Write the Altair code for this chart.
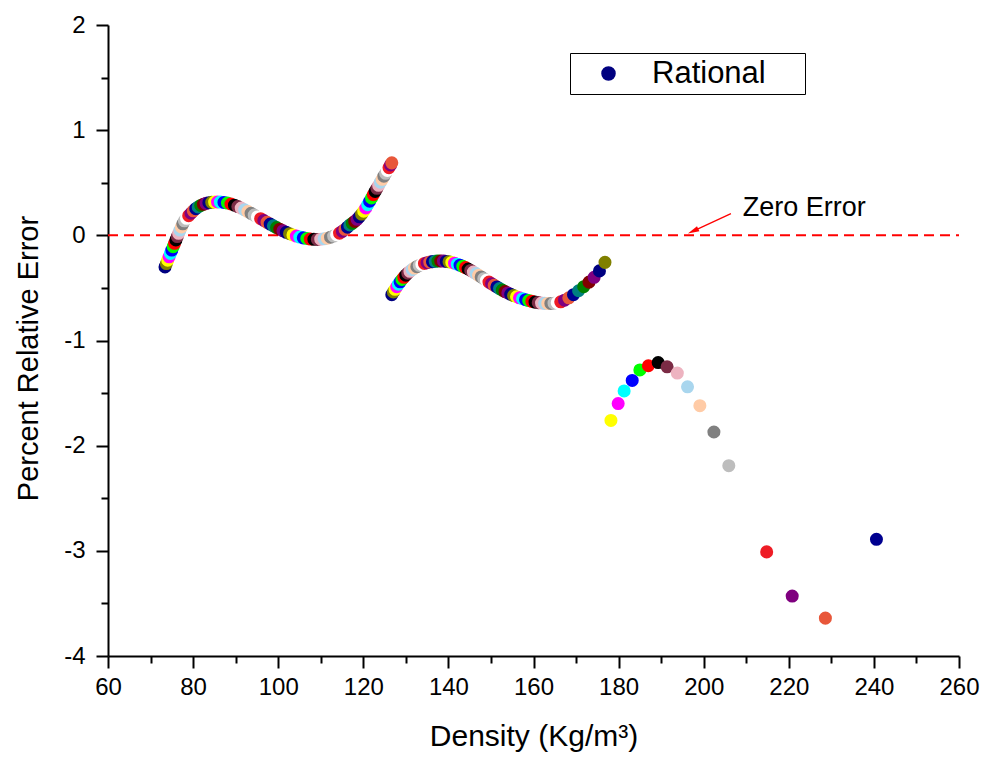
import altair as alt
import pandas as pd

# ---------------- data ----------------
C1_X = [73.40, 73.72, 74.04, 74.36, 74.68, 75.00, 75.32, 75.64, 75.96, 76.28,
        76.60, 76.92, 77.25, 77.58, 77.95, 78.45, 78.97, 79.50, 80.05, 80.62,
        81.20, 81.80, 82.42, 83.05, 83.70, 84.38, 85.06, 85.74, 86.42, 87.25,
        88.08, 88.90, 89.72, 90.52, 91.31, 92.09, 92.86, 93.62, 94.37, 95.12,
        95.87, 96.62, 97.37, 98.12, 98.87, 99.62, 100.37, 101.13, 101.90, 102.68,
        103.47, 104.27, 105.08, 105.90, 106.72, 107.55, 108.38, 109.21, 110.00, 110.78,
        111.55, 112.30, 113.03, 113.74, 114.42, 115.08, 115.70, 116.28, 116.84, 117.40,
        117.98, 118.54, 119.08, 119.60, 120.10, 120.58, 121.04, 121.49, 121.93, 122.36,
        122.78, 123.20, 123.61, 124.02, 124.43, 124.84, 125.25, 125.65, 126.04, 126.40,
        126.70]
C1_Y = [-0.300, -0.268, -0.236, -0.204, -0.172, -0.140, -0.108, -0.076, -0.044, -0.012,
        0.019, 0.050, 0.080, 0.110, 0.138, 0.162, 0.187, 0.210, 0.233, 0.253,
        0.270, 0.284, 0.295, 0.304, 0.310, 0.314, 0.316, 0.317, 0.316, 0.313,
        0.307, 0.298, 0.287, 0.274, 0.259, 0.243, 0.226, 0.209, 0.192, 0.175,
        0.158, 0.141, 0.124, 0.107, 0.090, 0.074, 0.058, 0.043, 0.029, 0.016,
        0.004, -0.007, -0.016, -0.024, -0.030, -0.035, -0.038, -0.039, -0.037, -0.033,
        -0.027, -0.018, -0.007, 0.006, 0.021, 0.038, 0.057, 0.077, 0.099, 0.114,
        0.132, 0.152, 0.176, 0.202, 0.230, 0.260, 0.292, 0.324, 0.356, 0.387,
        0.417, 0.447, 0.476, 0.505, 0.533, 0.562, 0.590, 0.617, 0.644, 0.669,
        0.689]

C2_X = [126.70, 127.08, 127.46, 127.85, 128.25, 128.66, 129.08, 129.52, 129.98, 130.46,
        130.96, 131.48, 132.02, 132.58, 133.16, 133.76, 134.37, 134.99, 135.62, 136.26,
        136.90, 137.55, 138.20, 138.85, 139.50, 140.15, 140.80, 141.45, 142.10, 142.74,
        143.38, 144.01, 144.64, 145.26, 145.88, 146.49, 147.10, 147.71, 148.32, 148.93,
        149.54, 150.15, 150.77, 151.39, 152.02, 152.66, 153.31, 153.97, 154.64, 155.32,
        156.01, 156.71, 157.42, 158.14, 158.87, 159.61, 160.36, 161.12, 161.89, 162.62,
        163.35, 164.08, 164.82, 165.58, 166.40, 167.30, 168.30, 169.40, 170.60, 171.80,
        173.05, 174.25, 175.50, 176.80]
C2_Y = [-0.564, -0.538, -0.513, -0.489, -0.465, -0.442, -0.420, -0.399, -0.379, -0.360,
        -0.342, -0.326, -0.311, -0.298, -0.286, -0.276, -0.267, -0.260, -0.254, -0.250,
        -0.247, -0.245, -0.244, -0.245, -0.248, -0.252, -0.258, -0.265, -0.274, -0.284,
        -0.295, -0.307, -0.320, -0.334, -0.349, -0.364, -0.380, -0.396, -0.412, -0.428,
        -0.444, -0.460, -0.476, -0.491, -0.506, -0.521, -0.535, -0.548, -0.561, -0.573,
        -0.584, -0.594, -0.603, -0.612, -0.620, -0.628, -0.635, -0.640, -0.644, -0.647,
        -0.648, -0.648, -0.645, -0.640, -0.632, -0.617, -0.594, -0.564, -0.527, -0.488,
        -0.445, -0.399, -0.338, -0.257]

C3_X = [178.2, 179.9, 181.3, 183.2, 185.0, 187.0, 189.3, 191.4, 193.8, 196.2,
        199.1, 202.4, 205.9, 214.8, 220.8, 228.6, 240.6]
C3_Y = [-1.76, -1.60, -1.48, -1.38, -1.28, -1.24, -1.21, -1.25, -1.31, -1.44,
        -1.62, -1.87, -2.19, -3.01, -3.43, -3.64, -2.89]

SERIES_NAME = "Rational"
X_TICKS = [60, 80, 100, 120, 140, 160, 180, 200, 220, 240, 260]
X_MINOR = [70, 90, 110, 130, 150, 170, 190, 210, 230, 250]
Y_TICKS = [-4, -3, -2, -1, 0, 1, 2]
Y_MINOR = [-3.5, -2.5, -1.5, -0.5, 0.5, 1.5]
X_DOMAIN = [60, 260]
Y_DOMAIN = [-4, 2]

ZERO_LINE_Y = [0.0]
ZERO_LABEL = ["Zero Error"]
ZERO_LABEL_X = [209.2]
ZERO_LABEL_Y = [0.187]
ARROW_FROM_X = [206.4]
ARROW_FROM_Y = [0.206]
ARROW_TO_X = [197.9]
ARROW_TO_Y = [0.047]

# Origin-style colour increment list (style)
PALETTE = ["#000000", "#FF0000", "#00FF00", "#0000FF", "#00FFFF", "#FF00FF",
           "#FFFF00", "#808000", "#000080", "#800080", "#800000", "#008000",
           "#008080", "#000090", "#E8573A", "#7F007F", "#EE1C25", "#FFFFFF",
           "#BDBDBD", "#808080", "#FFCBA6", "#A9D6EE", "#EDB3C0", "#7B2B45"]
C1_COLOR_START = 14
C2_COLOR_START = 7
C3_COLOR_IDX = [6, 5, 4, 3, 2, 1, 0, 23, 22, 21, 20, 19, 18, 16, 15, 14, 13]

FONT = "Liberation Sans"

# ---------------- tables ----------------
rows = []
n1 = len(C1_X)
for i, (x, y) in enumerate(zip(C1_X, C1_Y)):
    rows.append({"x": x, "y": y, "series": SERIES_NAME,
                 "c": PALETTE[(C1_COLOR_START + n1 - 1 - i) % 24]})
n2 = len(C2_X)
for i, (x, y) in enumerate(zip(C2_X, C2_Y)):
    rows.append({"x": x, "y": y, "series": SERIES_NAME,
                 "c": PALETTE[(C2_COLOR_START + n2 - 1 - i) % 24]})
for i, (x, y) in enumerate(zip(C3_X, C3_Y)):
    rows.append({"x": x, "y": y, "series": SERIES_NAME, "c": PALETTE[C3_COLOR_IDX[i]]})
pts = pd.DataFrame(rows)
pts["ord"] = range(len(pts))

zero_df = pd.DataFrame({"x": [X_DOMAIN[0]], "x2": [X_DOMAIN[1]], "y": ZERO_LINE_Y})
label_df = pd.DataFrame({"x": ZERO_LABEL_X, "y": ZERO_LABEL_Y, "t": ZERO_LABEL})
arrow_df = pd.DataFrame({"x": ARROW_FROM_X, "y": ARROW_FROM_Y,
                         "xe": ARROW_TO_X, "ye": ARROW_TO_Y})

xs = alt.Scale(domain=X_DOMAIN, nice=False, zero=False)
ys = alt.Scale(domain=Y_DOMAIN, nice=False, zero=False)

common_axis = dict(tickColor="black", tickWidth=2, grid=False,
                   labelColor="black", titleColor="black")

x_major = alt.Axis(values=X_TICKS, orient="bottom", tickSize=12, domainColor="black",
                   domainWidth=2, labelFontSize=24, labelPadding=7, labelFlush=False,
                   labelOverlap=False, title="Density (Kg/m³)", titleFontSize=30,
                   titleFontWeight="normal", titlePadding=22, **common_axis)
y_major = alt.Axis(values=Y_TICKS, orient="left", tickSize=12, domainColor="black",
                   domainWidth=2, labelFontSize=24, labelPadding=11, labelFlush=False,
                   labelOverlap=False, labelExpr="'' + datum.value",
                   title="Percent Relative Error", titleFontSize=29,
                   titleFontWeight="normal", titlePadding=20, titleY=333, **common_axis)
x_minor = alt.Axis(values=X_MINOR, orient="bottom", tickSize=7, domain=False,
                   labels=False, title=None, **common_axis)
y_minor = alt.Axis(values=Y_MINOR, orient="left", tickSize=7, domain=False,
                   labels=False, title=None, **common_axis)

zero_line = alt.Chart(zero_df).mark_rule(
    color="#FF0000", strokeWidth=2, strokeDash=[10, 6]
).encode(
    x=alt.X("x:Q", scale=xs, axis=x_minor),
    x2="x2:Q",
    y=alt.Y("y:Q", scale=ys, axis=y_minor),
)

points = alt.Chart(pts).mark_point(
    filled=True, size=170, opacity=1, strokeWidth=0
).encode(
    x=alt.X("x:Q", scale=xs, axis=x_major),
    y=alt.Y("y:Q", scale=ys, axis=y_major),
    color=alt.Color("c:N", scale=None),
    shape=alt.Shape("series:N", scale=alt.Scale(domain=[SERIES_NAME], range=["circle"]),
                    legend=alt.Legend(
                        title="MM", titleOrient="right", titleFontSize=17,
                        titleColor="#FFFFFF", titlePadding=5,
                        orient="none", legendX=462, legendY=28,
                        labelFontSize=31, labelFont=FONT, labelColor="black",
                        symbolFillColor="#000080", symbolStrokeColor="#000080",
                        symbolSize=170, symbolType="circle", symbolOffset=18,
                        labelOffset=28, padding=5, strokeColor="black",
                        fillColor="white")),
    order=alt.Order("ord:Q"),
)

label = alt.Chart(label_df).mark_text(
    align="left", baseline="alphabetic", fontSize=27, font=FONT, color="black"
).encode(
    x=alt.X("x:Q", scale=xs, axis=None),
    y=alt.Y("y:Q", scale=ys, axis=None),
    text="t:N",
)

arrow_line = alt.Chart(arrow_df).mark_rule(color="#FF0000", strokeWidth=1.3).encode(
    x=alt.X("x:Q", scale=xs, axis=None),
    y=alt.Y("y:Q", scale=ys, axis=None),
    x2="xe:Q",
    y2="ye:Q",
)

arrow_head = alt.Chart(arrow_df).mark_point(
    shape="M0,-1.2L0.45,0.6L-0.45,0.6Z", filled=True, fill="#FF0000", color="#FF0000",
    size=160, angle=245, opacity=1, strokeWidth=0.5
).encode(
    x=alt.X("xe:Q", scale=xs, axis=None),
    y=alt.Y("ye:Q", scale=ys, axis=None),
)

chart = alt.layer(zero_line, points, label, arrow_line, arrow_head).resolve_axis(
    x="independent", y="independent"
).properties(
    width=851, height=631,
    autosize=alt.AutoSizeParams(type="none"),
    padding={"left": 100, "top": 17, "right": 22, "bottom": 102},
    background="white",
).configure(font=FONT).configure_view(stroke=None)

chart.save("out.html", embed_options={"renderer": "svg", "actions": False})
